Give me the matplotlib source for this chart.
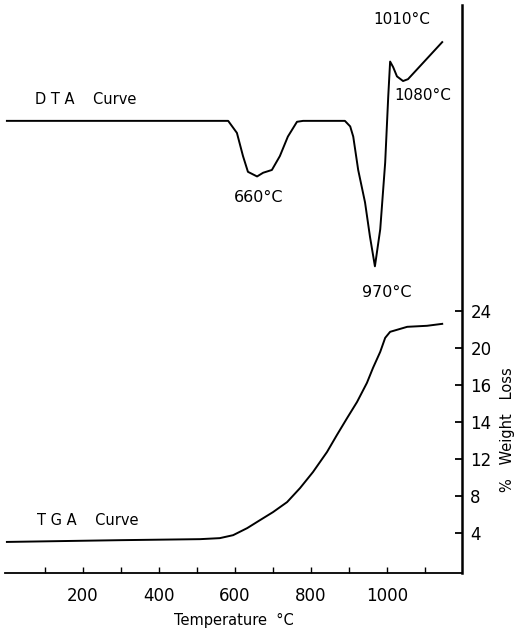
import numpy as np
import matplotlib
matplotlib.use("Agg")
from matplotlib import pyplot as plt

# DTA trace (arbitrary units on the shared vertical scale)
dta_temp = [0, 582, 605, 621, 634, 658, 674, 697, 718, 739, 763, 779,
            889, 903, 911, 924, 942, 955, 968, 982, 995, 1003, 1008,
            1016, 1026, 1042, 1055, 1145]
dta_sig = [48.5, 48.5, 47.2, 44.7, 43.0, 42.5, 42.9, 43.2, 44.7, 46.8, 48.4, 48.5,
           48.5, 47.9, 46.8, 43.2, 39.7, 36.0, 32.8, 36.8, 44.0, 51.1, 54.9,
           54.3, 53.3, 52.8, 53.0, 57.0]

# TGA trace
tga_temp = [0, 297, 508, 560, 595, 632, 666, 700, 737, 771, 805, 842, 868,
            895, 921, 947, 963, 982, 995, 1008, 1053, 1105, 1145]
tga_loss = [3.05, 3.24, 3.35, 3.46, 3.78, 4.54, 5.41, 6.27, 7.35, 8.86, 10.59,
            12.76, 14.59, 16.43, 18.16, 20.22, 21.84, 23.57, 25.08, 25.73,
            26.27, 26.38, 26.59]

xticks = [200, 400, 600, 800, 1000]
xminor = [100, 300, 500, 700, 900, 1100]
yticks = [4, 8, 12, 16, 20, 24, 28]
ylabels = ['4', '8', '12', '14', '16', '20', '24']

fig = plt.figure(figsize=(5.16, 6.32), dpi=100)
ax = fig.add_axes([0.0097, 0.0934, 0.8856, 0.8986])

ax.plot(dta_temp, dta_sig, c='k', lw=1.4)
ax.plot(tga_temp, tga_loss, c='k', lw=1.4)

ax.set_xlim(-5, 1197)
ax.set_ylim(-0.3, 61)

for s in ['left', 'top']:
    ax.spines[s].set_visible(False)
ax.spines['right'].set_linewidth(1.8)
ax.spines['bottom'].set_linewidth(1.3)

ax.set_xticks(xticks)
ax.set_xticks(xminor, minor=True)
ax.tick_params(axis='x', which='both', direction='in', length=4, width=1,
               labelsize=12, pad=10)
ax.yaxis.tick_right()
ax.set_yticks(yticks)
ax.set_yticklabels(ylabels)
ax.tick_params(axis='y', direction='in', length=5, width=1.3, labelsize=12, pad=6)

ax.set_xlabel('Temperature  °C', fontsize=10.5, labelpad=6)
fig.text(0.984, 0.32, '%   Weight   Loss', fontsize=10.5, rotation=90,
         ha='center', va='center')

ax.text(74, 50.8, 'D T A    Curve', fontsize=10.5, ha='left', va='center')
ax.text(80, 5.4, 'T G A    Curve', fontsize=10.5, ha='left', va='center')
ax.text(661, 40.2, '660°C', fontsize=11.5, ha='center', va='center')
ax.text(1000, 30.0, '970°C', fontsize=11.5, ha='center', va='center')
ax.text(965, 59.4, '1010°C', fontsize=11, ha='left', va='center')
ax.text(1020, 51.2, '1080°C', fontsize=11, ha='left', va='center')

fig.savefig('out.png', dpi=100)
